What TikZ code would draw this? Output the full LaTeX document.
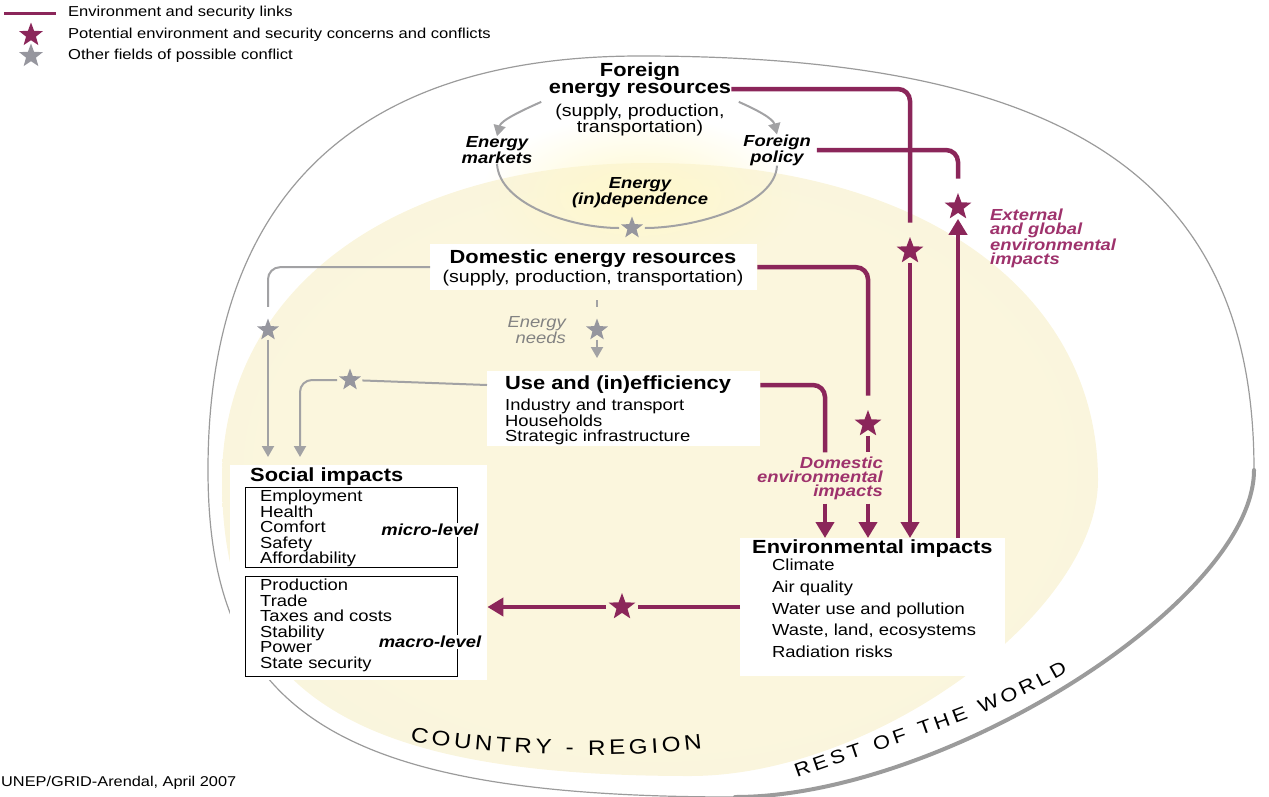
\documentclass[tikz,border=0pt]{standalone}
\usepackage{fontspec}
\setmainfont{Liberation Sans}[FakeStretch=1.15]
\usetikzlibrary{arrows.meta}
\usetikzlibrary{shapes.geometric}
\usetikzlibrary{decorations.text}
\usetikzlibrary{fadings}

\definecolor{plum}{RGB}{139,38,90}
\definecolor{plumtext}{RGB}{158,50,108}
\definecolor{linkgray}{RGB}{162,162,164}
\definecolor{stargray}{RGB}{150,150,158}
\definecolor{needsgray}{RGB}{130,130,130}
\definecolor{creamin}{RGB}{251,246,221}
\definecolor{creammid}{RGB}{244,241,222}
\definecolor{creamout}{RGB}{226,224,212}
\definecolor{glowc}{RGB}{255,248,204}
\definecolor{rimgray}{RGB}{155,155,155}

\pgfdeclareradialshading{creamshade}{\pgfpoint{0bp}{0bp}}{color(0bp)=(creamin); color(22bp)=(creamin); color(40bp)=(creammid); color(50bp)=(creamout)}
\tikzfading[name=glowfade, inner color=transparent!0, outer color=transparent!100]

\newcommand\ringfont{\fontsize{21}{21}\selectfont}
\newcommand\worldfont{\fontsize{19}{19}\selectfont}

\tikzset{
  ttl/.style={inner sep=0pt, font=\fontsize{19}{17}\selectfont\bfseries},
  sub/.style={inner sep=0pt, font=\fontsize{17}{16}\selectfont},
  txt/.style={inner sep=0pt, align=left, anchor=north west, font=\fontsize{16}{15.5}\selectfont},
  lbl/.style={inner sep=0pt, font=\fontsize{16}{14}\selectfont\bfseries\itshape},
  legend/.style={inner sep=0pt, anchor=west, font=\fontsize{14.4}{15}\selectfont},
  box/.style={fill=white, inner sep=0pt, anchor=north west},
  subbox/.style={draw=black, line width=0.8pt, inner sep=0pt, anchor=north west},
  envlink/.style={plum, line width=4.5pt, rounded corners=12pt},
  envarrow/.style={envlink, -{Triangle[width=18pt,length=16pt]}},
  graylink/.style={linkgray, line width=2pt, rounded corners=12pt},
  grayarrow/.style={graylink, -{Triangle[width=12pt,length=11pt]}},
  plumstar/.style={star, star points=5, star point ratio=2.4, fill=plum, minimum size=28pt, inner sep=0pt, outer sep=5pt},
  graystar/.style={plumstar, fill=stargray, minimum size=23pt, outer sep=4pt}
}

\begin{document}
\begin{tikzpicture}[x=1pt, y=-1pt]
\useasboundingbox (0,0) rectangle (1269,796);

\shade[shading=creamshade] (222,480) .. controls (222,290) and (393,163) .. (650,163)
  .. controls (919,163) and (1098,290) .. (1098,480)
  .. controls (1098,613) and (874,776) .. (690,776)
  .. controls (353,776) and (222,693) .. cycle;
\fill[glowc, path fading=glowfade] (640,195) ellipse [x radius=160, y radius=80];
\draw[rimgray, line width=1.2pt] (208,470) .. controls (208,197) and (355,56) .. (640,56)
  .. controls (1070,56) and (1254,180) .. (1254,470)
  .. controls (1254,601) and (943,797) .. (735,797)
  .. controls (340,797) and (208,715) .. cycle;
\draw[rimgray, line width=4pt, line cap=round] (1254,470) .. controls (1254,601) and (943,797) .. (735,797);

\draw[plum, line width=3pt] (4,13) -- (56,13);
\node[legend] (leg1) at (68,13) {Environment and security links};
\node[plumstar, minimum size=25pt] (legstar1) at (31,35) {};
\node[legend] (leg2) at (68,35) {Potential environment and security concerns and conflicts};
\node[graystar, minimum size=25pt] (legstar2) at (31,56) {};
\node[legend] (leg3) at (68,56) {Other fields of possible conflict};

\node[ttl, align=center] (foreign) at (640,80) {Foreign\\energy resources};
\node[sub, align=center] (foreignsub) at (640,120) {(supply, production,\\transportation)};
\node[lbl, align=center] (markets) at (497,150) {Energy\\markets};
\node[lbl, align=center] (policy) at (777,150) {Foreign\\policy};
\node[lbl, align=center] (indep) at (640,193) {Energy\\(in)dependence};
\node[graystar] (indstar) at (632,228) {};

\draw[grayarrow] ([xshift=-14pt,yshift=2pt]foreignsub.north west) .. controls +(-18,8) and +(4,-16) .. (markets.north);
\draw[grayarrow] ([xshift=14pt,yshift=2pt]foreignsub.north east) .. controls +(18,8) and +(-4,-16) .. (policy.north);
\draw[graylink] (markets.south) .. controls +(2,40) and +(-62,0) .. (indstar);
\draw[graylink] (indstar) .. controls +(62,0) and +(-2,40) .. (policy.south);

\node[box, minimum width=327, minimum height=46] (dom) at (430,244) {};
\node[ttl] (domtitle) at (593,259) {Domestic energy resources};
\node[sub] (domsub) at (593,278) {(supply, production, transportation)};

\node[box, minimum width=273, minimum height=75] (use) at (487,371) {};
\node[ttl, anchor=west] (usetitle) at (505,385) {Use and (in)efficiency};
\node[txt] (uselist) at (505,399) {Industry and transport\\Households\\Strategic infrastructure};

\node[box, minimum width=257, minimum height=215] (social) at (230,465) {};
\node[ttl, anchor=west] (socialtitle) at (250,477) {Social impacts};
\node[subbox, minimum width=212, minimum height=80] (micro) at (245,487) {};
\node[txt] (microlist) at (260,490) {Employment\\Health\\Comfort\\Safety\\Affordability};
\node[lbl, fill=white, inner sep=1pt] (microlbl) at (430,530) {micro-level};
\node[subbox, minimum width=212, minimum height=100] (macro) at (245,576) {};
\node[txt] (macrolist) at (260,579) {Production\\Trade\\Taxes and costs\\Stability\\Power\\State security};
\node[lbl, fill=white, inner sep=1pt] (macrolbl) at (430,642) {macro-level};

\node[box, minimum width=265, minimum height=138] (env) at (740,538) {};
\node[ttl, anchor=west] (envtitle) at (752,549) {Environmental impacts};
\node[txt, font=\fontsize{16}{21.7}\selectfont] (envlist) at (772,559) {Climate\\Air quality\\Water use and pollution\\Waste, land, ecosystems\\Radiation risks};

\node[lbl, text=plumtext, align=right, anchor=east, inner sep=4pt] (domlbl) at (887,478) {Domestic\\environmental\\impacts};
\node[lbl, text=plumtext, align=left, anchor=west] (extlbl) at (990,238) {External\\and global\\environmental\\impacts};
\node[inner sep=0pt, align=right, anchor=east, text=needsgray, font=\fontsize{16}{14}\selectfont\itshape] (needs) at (566,330) {Energy\\needs};

\node[plumstar] (s1) at (910,251) {};
\node[plumstar] (s2) at (958,207) {};
\node[plumstar] (s3) at (868,424) {};
\node[plumstar] (s5) at (622,607) {};
\node[graystar] (g1) at (268,330) {};
\node[graystar] (g2) at (350,380) {};
\node[graystar] (g3) at (597,330) {};
\coordinate (usebend) at (825,0);
\coordinate (g2drop) at ([xshift=70pt]social.north west);

\draw[envlink] ([yshift=-9pt]foreign.east) -| (s1);
\draw[envarrow] (s1) -- (s1 |- env.north);
\draw[envlink] ([xshift=6pt]policy.east) -| (s2);
\draw[envarrow] (s2 |- env.north) -- (s2);
\draw[envlink] (dom.east) -| (s3);
\draw[envlink] (s3) -- (s3 |- domlbl.north);
\draw[envarrow] (s3 |- domlbl.south) -- (s3 |- env.north);
\draw[envlink] (use.east |- usetitle) -| (usebend |- domlbl.north);
\draw[envarrow] (usebend |- domlbl.south) -- (usebend |- env.north);
\draw[envlink] (env.west |- s5) -- (s5);
\draw[envarrow] (s5) -- (s5 -| social.east);

\draw[graylink] (dom.west) -| (g1);
\draw[grayarrow, shorten >=8pt] (g1) -- (g1 |- social.north);
\draw[graylink] (use.west |- usetitle) -- (g2);
\draw[grayarrow, shorten >=8pt] (g2) -| (g2drop);
\draw[graylink, shorten <=10pt] (g3 |- dom.south) -- (g3);
\draw[grayarrow, shorten >=13pt] (g3) -- (g3 |- use.north);

\path[decorate, decoration={text along path, text={|\ringfont|COUNTRY - REGION}, text align={fit to path}, text color=black}] (410,741) .. controls (500,757) and (620,759) .. (702,749);
\path[decorate, decoration={text along path, text={|\worldfont|REST OF THE WORLD}, text align={fit to path}, text color=black}] (797,778) .. controls (880,748) and (990,718) .. (1068,672);

\node[inner sep=0pt, anchor=west, font=\fontsize{14.2}{15}\selectfont] (credit) at (1,783) {UNEP/GRID-Arendal, April 2007};
\end{tikzpicture}
\end{document}
